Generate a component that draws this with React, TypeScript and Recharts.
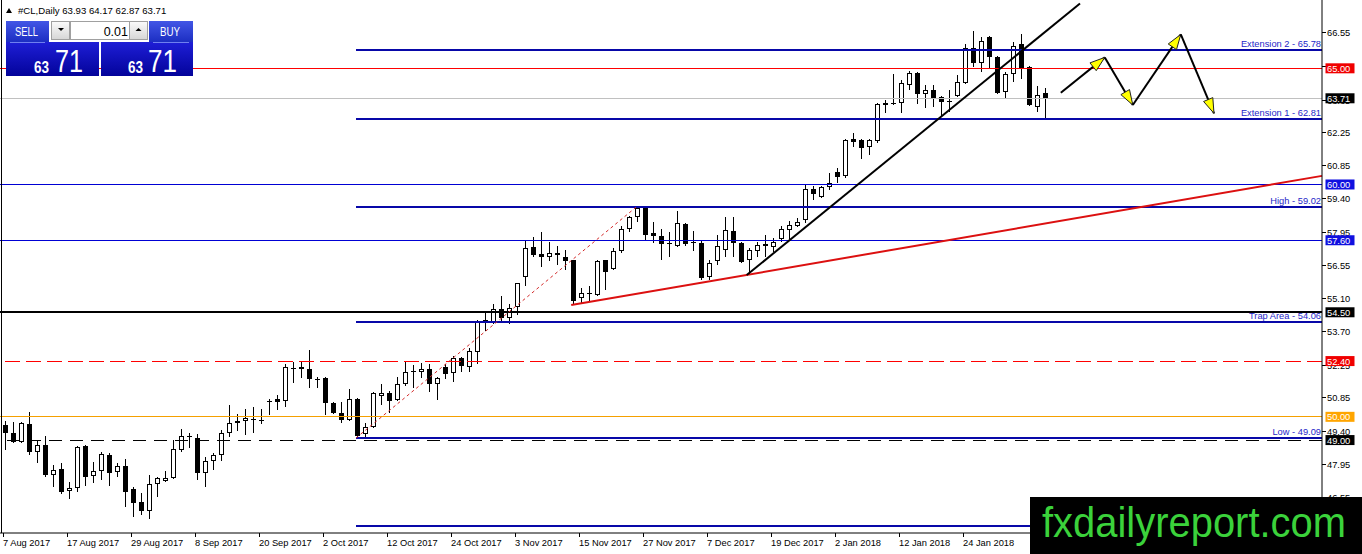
import React from 'react';
import { ComposedChart, Bar, XAxis, YAxis, ReferenceLine } from 'recharts';

const FONT = '"Liberation Sans", Arial, Helvetica, sans-serif';

// #CL Daily, bar 0 = 7 Aug 2017 ... bar 130 = last bar
const openPrices = [
  49.65, 49.30, 48.91, 49.69, 48.48, 48.78, 47.49, 47.75, 46.79, 46.92,
  48.74, 47.44, 47.66, 48.35, 47.62, 47.87, 46.88, 46.32, 45.93, 47.10,
  47.23, 47.36, 48.57, 49.13, 49.08, 47.57, 48.09, 48.35, 49.30, 49.73,
  49.82, 49.91, 49.86, 50.66, 50.77, 50.68, 52.09, 52.15, 52.07, 51.63,
  51.68, 50.60, 50.16, 49.86, 50.77, 49.26, 49.56, 50.90, 51.03, 50.73,
  51.42, 51.98, 51.94, 52.07, 51.42, 52.15, 51.89, 52.54, 52.15, 52.80,
  54.10, 54.10, 54.66, 54.27, 54.70, 56.00, 57.29, 56.99, 56.86, 57.03,
  56.90, 56.73, 55.09, 55.28, 55.22, 56.73, 56.34, 57.12, 58.07, 58.59,
  58.98, 57.90, 57.77, 57.47, 57.34, 58.29, 57.53, 57.47, 56.04, 56.69,
  57.16, 57.98, 57.47, 56.73, 57.12, 57.42, 57.29, 57.64, 58.03, 58.20,
  58.47, 59.81, 59.47, 59.90, 60.54, 60.36, 61.95, 61.92, 61.62, 61.88,
  63.42, 63.51, 63.51, 64.28, 64.80, 63.90, 64.07, 63.77, 63.61, 63.81,
  64.37, 65.87, 65.23, 66.35, 65.48, 63.98, 64.76, 66.05, 65.06, 63.33,
  63.93,
];
const highPrices = [
  49.82, 49.77, 49.77, 50.21, 49.00, 49.17, 47.92, 48.00, 47.18, 48.74,
  48.78, 48.05, 48.48, 48.44, 48.00, 48.18, 46.97, 46.71, 47.49, 47.40,
  47.66, 49.00, 49.47, 49.30, 49.26, 48.26, 48.44, 49.43, 50.51, 50.12,
  50.34, 50.42, 50.34, 50.77, 50.94, 52.28, 52.37, 52.37, 52.89, 51.72,
  51.72, 50.64, 50.64, 51.20, 50.81, 49.73, 51.07, 51.42, 51.11, 51.72,
  52.37, 52.24, 52.32, 52.28, 51.72, 52.28, 52.63, 52.58, 52.97, 54.18,
  54.53, 54.87, 55.22, 54.87, 55.78, 57.60, 57.72, 57.94, 57.51, 57.34,
  57.16, 56.77, 55.56, 55.65, 56.73, 56.77, 57.25, 58.20, 58.63, 59.02,
  59.00, 58.37, 58.07, 57.94, 58.85, 58.33, 57.98, 57.55, 56.73, 57.81,
  58.59, 58.59, 57.51, 57.25, 57.51, 57.81, 57.68, 58.20, 58.42, 58.55,
  60.02, 59.94, 59.94, 60.49, 60.71, 61.96, 62.21, 61.96, 61.96, 63.51,
  63.64, 64.76, 64.50, 64.89, 64.84, 64.28, 64.28, 63.81, 64.07, 64.72,
  66.05, 66.61, 66.35, 66.39, 65.53, 64.84, 66.13, 66.48, 65.10, 64.24,
  64.17,
];
const lowPrices = [
  48.57, 48.87, 48.87, 48.35, 48.00, 47.40, 46.97, 46.67, 46.45, 46.75,
  47.01, 47.14, 47.27, 47.01, 47.40, 46.10, 45.71, 45.76, 45.59, 46.54,
  47.18, 47.33, 48.48, 48.65, 47.27, 46.97, 47.70, 48.09, 49.13, 49.39,
  49.21, 49.30, 49.71, 50.08, 50.29, 50.42, 51.46, 51.68, 51.24, 51.24,
  50.08, 50.12, 49.73, 49.82, 49.09, 49.13, 49.52, 50.51, 50.16, 50.68,
  51.33, 51.24, 51.68, 51.07, 50.73, 51.63, 51.50, 51.94, 51.94, 52.28,
  53.71, 54.01, 54.05, 54.01, 54.40, 55.65, 56.86, 56.43, 56.69, 56.52,
  56.34, 54.83, 54.92, 54.96, 55.18, 55.48, 56.30, 57.03, 57.94, 58.37,
  57.55, 57.47, 56.77, 56.90, 57.32, 57.34, 57.12, 55.87, 55.87, 56.52,
  56.90, 56.90, 56.60, 56.13, 56.90, 56.86, 57.08, 57.51, 57.64, 58.16,
  58.34, 59.34, 59.43, 59.77, 60.06, 60.28, 61.62, 61.10, 61.27, 61.79,
  63.07, 63.40, 63.07, 64.07, 63.45, 63.29, 63.33, 62.90, 63.12, 63.76,
  64.34, 65.06, 64.85, 64.98, 63.91, 63.68, 64.41, 64.54, 63.38, 63.12,
  62.87,
];
const closePrices = [
  49.30, 48.91, 49.73, 48.48, 48.78, 47.49, 47.70, 46.75, 46.92, 48.70,
  47.40, 47.66, 48.39, 47.57, 47.87, 46.75, 46.28, 45.93, 47.10, 47.36,
  47.36, 48.61, 49.17, 49.17, 47.57, 48.09, 48.35, 49.30, 49.73, 49.82,
  49.95, 49.86, 49.80, 50.70, 50.64, 52.15, 52.11, 52.07, 51.63, 51.59,
  50.60, 50.16, 49.86, 50.77, 49.17, 49.56, 51.01, 51.03, 50.68, 51.42,
  51.94, 51.94, 52.07, 51.42, 51.68, 51.85, 52.54, 52.20, 52.84, 54.14,
  54.18, 54.66, 54.27, 54.70, 55.74, 57.25, 56.95, 56.86, 57.03, 56.95,
  56.73, 54.96, 55.31, 55.31, 56.69, 56.21, 57.12, 58.07, 58.59, 58.98,
  57.81, 57.77, 57.42, 57.44, 58.33, 57.42, 57.51, 55.95, 56.64, 57.34,
  58.03, 57.47, 56.64, 57.16, 57.38, 57.34, 57.51, 58.07, 58.24, 58.37,
  59.81, 59.60, 59.90, 60.06, 60.32, 61.92, 61.83, 61.57, 61.92, 63.46,
  63.51, 63.46, 64.37, 64.80, 63.90, 64.07, 63.72, 63.55, 63.59, 64.41,
  65.87, 65.23, 66.18, 65.48, 63.94, 64.76, 65.96, 65.02, 63.42, 63.85,
  63.71,
];

// one date label every 8 bars
const dateLabels = [
  '7 Aug 2017', '17 Aug 2017', '29 Aug 2017', '8 Sep 2017', '20 Sep 2017', '2 Oct 2017',
  '12 Oct 2017', '24 Oct 2017', '3 Nov 2017', '15 Nov 2017', '27 Nov 2017', '7 Dec 2017',
  '19 Dec 2017', '2 Jan 2018', '12 Jan 2018', '24 Jan 2018',
];
const LABEL_EVERY = 8;
const FUTURE_BARS = 34;

const yTicks = [66.55, 65.1, 63.65, 62.25, 60.85, 59.4, 57.95, 56.55, 55.1, 53.7, 52.25, 50.85, 49.4, 47.95, 46.55];

const markedLevels = [65.0, 63.71, 60.0, 57.6, 54.5, 52.4, 50.0, 49.0];
const fibLevels = [65.78, 62.81, 59.02, 54.06, 49.09, 45.3];
const fibNames = ['Extension 2', 'Extension 1', 'High', 'Trap Area', 'Low', ''];
const fibStartBar = 44;

// [bar, price]
const blackTrend = [[92.84, 56.1], [134.5, 67.79]];
const redTrend = [[70.9, 54.81], [164.75, 60.37]];
const fibTrend = [[44, 49.09], [79, 59.02]];
const projectionPath = [[132.1, 63.95], [137.6, 65.47], [141.1, 63.42], [147.1, 66.46], [151.25, 63.06]];

const Y_DOMAIN = [45.0, 67.94];
const X_NUM_DOMAIN = [-0.5, 164.75];

// styles for marked levels (same order as markedLevels)
const levelStyles = [
  { stroke: '#ff0000', width: 1, box: '#f00000', dash: undefined },
  { stroke: '#c0c0c0', width: 1, box: '#000000', dash: undefined },
  { stroke: '#0000d4', width: 1, box: '#1010e0', dash: undefined },
  { stroke: '#0000d4', width: 1, box: '#1010e0', dash: undefined },
  { stroke: '#000000', width: 2, box: '#000000', dash: undefined },
  { stroke: '#ff0000', width: 1, box: '#f00000', dash: '15 6' },
  { stroke: '#f5a000', width: 1, box: '#ffa500', dash: undefined },
  { stroke: '#000000', width: 1, box: '#000000', dash: '13 8' },
];

const N = openPrices.length;
const table = Array.from({ length: N + FUTURE_BARS }, (_, i) =>
  i < N
    ? { idx: i, range: [lowPrices[i], highPrices[i]], o: openPrices[i], h: highPrices[i], l: lowPrices[i], c: closePrices[i] }
    : { idx: i }
);

const Candle = (props: any) => {
  const { x, y, width, height, payload } = props;
  if (!payload || payload.h == null || x == null || isNaN(y)) return null;
  const top = Math.min(y, y + height);
  const h = Math.abs(height);
  const span = payload.h - payload.l;
  const ppu = span > 0 ? h / span : 0;
  const py = (v: number) => top + (payload.h - v) * ppu;
  const c = Math.round(x + width / 2);
  const bTop = py(Math.max(payload.o, payload.c));
  const bBot = py(Math.min(payload.o, payload.c));
  const bull = payload.c >= payload.o;
  const bodyH = bBot - bTop;
  return (
    <g shapeRendering="crispEdges">
      <line x1={c + 0.5} x2={c + 0.5} y1={top} y2={top + h} stroke="#000" strokeWidth={1} />
      {bodyH < 1.5 ? (
        <line x1={c - 2} x2={c + 3} y1={Math.round(bTop) + 0.5} y2={Math.round(bTop) + 0.5} stroke="#000" strokeWidth={1} />
      ) : bull ? (
        <rect x={c - 1.5} y={Math.round(bTop) + 0.5} width={4} height={Math.max(1, Math.round(bodyH) - 1)} fill="#fff" stroke="#000" strokeWidth={1} />
      ) : (
        <rect x={c - 2} y={Math.round(bTop)} width={5} height={Math.max(1, Math.round(bodyH))} fill="#000" />
      )}
    </g>
  );
};

const XTick = (props: any) => {
  const { x, y, payload } = props;
  const i = Number(payload && payload.value);
  if (i % LABEL_EVERY !== 0) return <g />;
  const label = dateLabels[i / LABEL_EVERY];
  if (!label) return <g />;
  const cx = Math.round(x);
  return (
    <g>
      <line x1={cx - 0.5} x2={cx - 0.5} y1={y} y2={y + 4} stroke="#000" strokeWidth={1} />
      <text x={cx - 1} y={y + 12.5} fontSize={9.3} fontFamily={FONT} fill="#000">{label}</text>
    </g>
  );
};

// price-scale tick label (drawn beneath the coloured price boxes)
const AxisTickLabel = (props: any) => {
  const { viewBox, text } = props;
  if (!viewBox) return null;
  const x = viewBox.x + viewBox.width;
  const y = Math.round(viewBox.y);
  return (
    <g>
      <line x1={x} x2={x + 4} y1={y + 0.5} y2={y + 0.5} stroke="#000" strokeWidth={1} />
      <text x={x + 5} y={y + 3.8} fontSize={9.3} fontFamily={FONT} fill="#000">{text}</text>
    </g>
  );
};

const PriceBox = (props: any) => {
  const { viewBox, text, bg } = props;
  if (!viewBox) return null;
  const x = viewBox.x + viewBox.width;
  const y = viewBox.y;
  return (
    <g>
      <rect x={x + 3.5} y={y - 5} width={29} height={10} fill={bg} />
      <text x={x + 5} y={y + 3.6} fontSize={9.3} fontFamily={FONT} fill="#fff">{text}</text>
    </g>
  );
};

const FibLabel = (props: any) => {
  const { viewBox, text } = props;
  if (!viewBox || !text) return null;
  return (
    <text x={viewBox.x + viewBox.width - 1} y={viewBox.y - 3} textAnchor="end" fontSize={9.3} fontFamily={FONT} fill="#2626c8">
      {text}
    </text>
  );
};

const ArrowSeg = (props: any) => {
  const { x1, y1, x2, y2 } = props;
  if ([x1, y1, x2, y2].some((v) => v == null || isNaN(v))) return null;
  const dx = x2 - x1;
  const dy = y2 - y1;
  const len = Math.hypot(dx, dy) || 1;
  const ux = dx / len;
  const uy = dy / len;
  const L = 15;
  const W = 5;
  const bx = x2 - ux * L;
  const by = y2 - uy * L;
  const pts = `${x2},${y2} ${bx - uy * W},${by + ux * W} ${bx + uy * W},${by - ux * W}`;
  return (
    <g>
      <line x1={x1} y1={y1} x2={x2} y2={y2} stroke="#000" strokeWidth={2} />
      <polygon points={pts} fill="#ffff00" stroke="#222" strokeWidth={1} />
    </g>
  );
};

const TradePanel = () => (
  <svg width={200} height={80} style={{ position: 'absolute', left: 0, top: 0 }}>
    <defs>
      <linearGradient id="btnG" x1="0" y1="0" x2="0" y2="1">
        <stop offset="0" stopColor="#4256e6" />
        <stop offset="1" stopColor="#1c2ec2" />
      </linearGradient>
      <linearGradient id="bigG" x1="0" y1="0" x2="0" y2="1">
        <stop offset="0" stopColor="#1e1ed6" />
        <stop offset="1" stopColor="#03039a" />
      </linearGradient>
      <linearGradient id="grayG" x1="0" y1="0" x2="0" y2="1">
        <stop offset="0" stopColor="#fbfbfb" />
        <stop offset="1" stopColor="#d6d6d6" />
      </linearGradient>
    </defs>
    <polygon points="6,13 12,13 9,8" fill="#000" />
    <text x={18} y={14} fontSize={9.6} fontFamily={FONT} fill="#000">#CL,Daily  63.93 64.17 62.87 63.71</text>

    <rect x={6} y={21} width={43} height={21} fill="url(#btnG)" />
    <text x={15} y={36} fontSize={13.5} fontFamily={FONT} fill="#fff" textLength={23} lengthAdjust="spacingAndGlyphs">SELL</text>
    <rect x={149} y={21} width={44} height={21} fill="url(#btnG)" />
    <text x={160} y={36} fontSize={13.5} fontFamily={FONT} fill="#fff" textLength={20} lengthAdjust="spacingAndGlyphs">BUY</text>

    <rect x={51.5} y={21.5} width={18} height={18} fill="url(#grayG)" stroke="#a0a0a0" />
    <polygon points="58,28 64,28 61,31" fill="#000" />
    <rect x={70.5} y={21.5} width={59} height={18} fill="#fff" stroke="#a0a0a0" />
    <text x={128} y={35.5} textAnchor="end" fontSize={12.5} fontFamily={FONT} fill="#000">0.01</text>
    <rect x={129.5} y={21.5} width={18} height={18} fill="url(#grayG)" stroke="#a0a0a0" />
    <polygon points="135.5,31 141.5,31 138.5,28" fill="#000" />

    <rect x={6} y={42} width={93} height={34} fill="url(#bigG)" />
    <rect x={101} y={42} width={92} height={34} fill="url(#bigG)" />
    <line x1={10} x2={45} y1={42.5} y2={42.5} stroke="#6f7ff0" strokeWidth={1} />
    <line x1={153} x2={189} y1={42.5} y2={42.5} stroke="#6f7ff0" strokeWidth={1} />
    <text x={34} y={73} fontSize={16} fontWeight="bold" fontFamily={FONT} fill="#fff" textLength={15} lengthAdjust="spacingAndGlyphs">63</text>
    <text x={55} y={72} fontSize={32} fontFamily={FONT} fill="#fff" textLength={28} lengthAdjust="spacingAndGlyphs">71</text>
    <text x={128} y={73} fontSize={16} fontWeight="bold" fontFamily={FONT} fill="#fff" textLength={15} lengthAdjust="spacingAndGlyphs">63</text>
    <text x={148} y={72} fontSize={32} fontFamily={FONT} fill="#fff" textLength={29} lengthAdjust="spacingAndGlyphs">71</text>
  </svg>
);

export default function App() {
  return (
    <div style={{ position: 'absolute', left: 0, top: 0, width: 1362, height: 554, background: '#fff', overflow: 'hidden', fontFamily: FONT }}>
      <ComposedChart width={1362} height={554} data={table} margin={{ top: 0, right: 0, bottom: 0, left: 0 }}>
        <XAxis
          dataKey="idx"
          type="category"
          interval={0}
          tick={(p: any) => <XTick {...p} />}
          tickLine={false}
          tickSize={0}
          tickMargin={0}
          axisLine={{ stroke: '#000' }}
          height={21}
          padding={{ left: 0, right: 2 }}
        />
        <XAxis xAxisId="num" dataKey="idx" type="number" domain={X_NUM_DOMAIN} allowDataOverflow hide />
        <YAxis
          orientation="right"
          type="number"
          domain={Y_DOMAIN}
          allowDataOverflow
          ticks={yTicks}
          interval={0}
          width={40}
          tick={false}
          tickLine={false}
          axisLine={{ stroke: '#000' }}
        />
        <Bar dataKey="range" barSize={5} shape={(p: any) => <Candle {...p} />} isAnimationActive={false} />

        {yTicks.map((t, k) => (
          <ReferenceLine
            key={`tk${k}`}
            y={t}
            stroke="none"
            ifOverflow="visible"
            label={<AxisTickLabel text={t.toFixed(2)} />}
          />
        ))}

        {markedLevels.map((lv, k) => (
          <ReferenceLine
            key={`lv${k}`}
            y={lv}
            stroke={levelStyles[k].stroke}
            strokeWidth={levelStyles[k].width}
            strokeDasharray={levelStyles[k].dash}
            shapeRendering="crispEdges"
            ifOverflow="visible"
            label={<PriceBox text={lv.toFixed(2)} bg={levelStyles[k].box} />}
          />
        ))}

        {fibLevels.map((lv, k) => (
          <ReferenceLine
            key={`fib${k}`}
            xAxisId="num"
            segment={[{ x: fibStartBar, y: lv }, { x: X_NUM_DOMAIN[1], y: lv }]}
            stroke="#0808a8"
            strokeWidth={2}
            shapeRendering="crispEdges"
            ifOverflow="visible"
            label={<FibLabel text={fibNames[k] ? `${fibNames[k]} - ${lv.toFixed(2)}` : ''} />}
          />
        ))}

        <ReferenceLine
          xAxisId="num"
          segment={[{ x: fibTrend[0][0], y: fibTrend[0][1] }, { x: fibTrend[1][0], y: fibTrend[1][1] }]}
          stroke="#d42a2a"
          strokeWidth={1}
          strokeDasharray="3 3"
          ifOverflow="visible"
        />
        <ReferenceLine
          xAxisId="num"
          segment={[{ x: redTrend[0][0], y: redTrend[0][1] }, { x: redTrend[1][0], y: redTrend[1][1] }]}
          stroke="#dc1010"
          strokeWidth={2}
          ifOverflow="visible"
        />
        <ReferenceLine
          xAxisId="num"
          segment={[{ x: blackTrend[0][0], y: blackTrend[0][1] }, { x: blackTrend[1][0], y: blackTrend[1][1] }]}
          stroke="#000"
          strokeWidth={2}
          ifOverflow="visible"
        />
        {projectionPath.slice(1).map((pt, k) => (
          <ReferenceLine
            key={`ar${k}`}
            xAxisId="num"
            segment={[{ x: projectionPath[k][0], y: projectionPath[k][1] }, { x: pt[0], y: pt[1] }]}
            ifOverflow="visible"
            shape={(p: any) => <ArrowSeg {...p} />}
          />
        ))}
      </ComposedChart>

      <div style={{ position: 'absolute', left: 1, top: 0, width: 1, height: 533, background: '#000' }} />
      <TradePanel />
      <div style={{ position: 'absolute', left: 1030, top: 497, width: 332, height: 57, background: '#000' }}>
        <svg width={332} height={57} style={{ position: 'absolute', left: 0, top: 0 }}>
          <text x={12} y={40} fontSize={42} fontFamily={FONT} fill="#3bd23b" textLength={304} lengthAdjust="spacingAndGlyphs">
            fxdailyreport.com
          </text>
        </svg>
      </div>
    </div>
  );
}
